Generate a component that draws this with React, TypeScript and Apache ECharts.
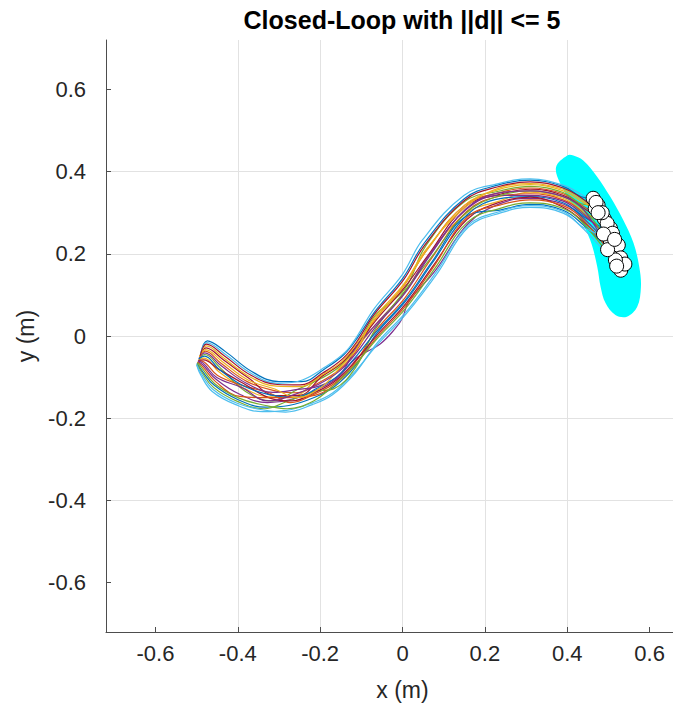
import React, { useEffect, useRef } from "react";
import * as echarts from "echarts";

const xTicks = [-0.6, -0.4, -0.2, 0, 0.2, 0.4, 0.6];
const yTicks = [-0.6, -0.4, -0.2, 0, 0.2, 0.4, 0.6];

const lineColors = ["#0072BD", "#D95319", "#EDB120", "#7E2F8E", "#77AC30", "#4DBEEE", "#A2142F"];

// Cyan region (boundary points, data coordinates)
const reachRegion = [
  [0.400, 0.439], [0.373, 0.411], [0.383, 0.371], [0.424, 0.299], [0.456, 0.233],
  [0.473, 0.168], [0.481, 0.120], [0.493, 0.080], [0.517, 0.051], [0.545, 0.047],
  [0.570, 0.071], [0.579, 0.120], [0.575, 0.168], [0.561, 0.226], [0.536, 0.282],
  [0.505, 0.338], [0.473, 0.387], [0.439, 0.427], [0.415, 0.439],
];

const traj01 = [[-0.490,-0.045],[-0.474,-0.012],[-0.430,-0.038],[-0.365,-0.087],[-0.300,-0.111],[-0.245,-0.111],[-0.189,-0.080],[-0.142,-0.045],[-0.110,-0.005],[-0.069,0.057],[0.001,0.141],[0.052,0.225],[0.150,0.334],[0.231,0.367],[0.310,0.379],[0.390,0.364],[0.440,0.337],[0.463,0.335]];
const traj02 = [[-0.493,-0.053],[-0.479,-0.037],[-0.440,-0.067],[-0.377,-0.111],[-0.312,-0.133],[-0.259,-0.138],[-0.200,-0.112],[-0.152,-0.081],[-0.112,-0.036],[-0.067,0.040],[0.003,0.122],[0.059,0.209],[0.152,0.319],[0.234,0.348],[0.310,0.360],[0.390,0.346],[0.440,0.315],[0.490,0.285]];
const traj03 = [[-0.495,-0.058],[-0.482,-0.054],[-0.446,-0.087],[-0.385,-0.127],[-0.320,-0.148],[-0.264,-0.146],[-0.203,-0.101],[-0.155,-0.072],[-0.113,-0.030],[-0.066,0.027],[0.005,0.107],[0.065,0.197],[0.154,0.298],[0.235,0.328],[0.310,0.350],[0.390,0.335],[0.440,0.303],[0.505,0.262]];
const traj04 = [[-0.497,-0.063],[-0.485,-0.070],[-0.452,-0.106],[-0.393,-0.143],[-0.328,-0.162],[-0.268,-0.154],[-0.206,-0.130],[-0.158,-0.102],[-0.113,-0.054],[-0.055,-0.020],[-0.017,0.019],[0.000,0.044],[0.015,0.083],[0.081,0.161],[0.159,0.273],[0.237,0.322],[0.310,0.335],[0.390,0.321],[0.440,0.286],[0.520,0.200]];
const traj05 = [[-0.494,-0.055],[-0.480,-0.045],[-0.443,-0.077],[-0.381,-0.135],[-0.316,-0.158],[-0.255,-0.130],[-0.197,-0.103],[-0.149,-0.071],[-0.112,-0.027],[-0.068,0.048],[0.006,0.115],[0.055,0.217],[0.151,0.327],[0.233,0.352],[0.310,0.364],[0.390,0.349],[0.440,0.320],[0.475,0.318]];
const traj06 = [[-0.500,-0.070],[-0.490,-0.095],[-0.462,-0.135],[-0.405,-0.167],[-0.340,-0.184],[-0.282,-0.181],[-0.217,-0.162],[-0.169,-0.138],[-0.115,-0.086],[-0.060,-0.020],[0.010,0.055],[0.085,0.153],[0.160,0.265],[0.240,0.300],[0.310,0.313],[0.390,0.299],[0.440,0.260],[0.530,0.160]];
const traj07 = [[-0.492,-0.050],[-0.477,-0.029],[-0.436,-0.057],[-0.373,-0.103],[-0.308,-0.145],[-0.253,-0.145],[-0.195,-0.098],[-0.148,-0.066],[-0.111,-0.023],[-0.067,0.035],[0.004,0.117],[0.061,0.195],[0.153,0.315],[0.234,0.344],[0.310,0.357],[0.390,0.342],[0.440,0.311],[0.497,0.274]];
const traj08 = [[-0.499,-0.066],[-0.488,-0.083],[-0.457,-0.120],[-0.399,-0.155],[-0.334,-0.173],[-0.276,-0.169],[-0.213,-0.149],[-0.164,-0.122],[-0.114,-0.072],[-0.063,0.006],[0.007,0.084],[0.074,0.180],[0.157,0.295],[0.237,0.334],[0.310,0.339],[0.390,0.324],[0.440,0.290],[0.510,0.250]];
const traj09 = [[-0.496,-0.060],[-0.484,-0.062],[-0.449,-0.096],[-0.389,-0.120],[-0.324,-0.138],[-0.272,-0.162],[-0.209,-0.139],[-0.161,-0.112],[-0.114,-0.063],[-0.064,0.014],[0.006,0.093],[0.070,0.188],[0.156,0.303],[0.236,0.340],[0.310,0.346],[0.390,0.331],[0.440,0.298],[0.505,0.229]];
const traj10 = [[-0.492,-0.049],[-0.476,-0.024],[-0.435,-0.053],[-0.371,-0.099],[-0.306,-0.122],[-0.251,-0.123],[-0.193,-0.093],[-0.146,-0.061],[-0.111,-0.018],[-0.067,0.040],[0.003,0.122],[0.059,0.209],[0.152,0.319],[0.233,0.356],[0.310,0.368],[0.390,0.353],[0.440,0.324],[0.468,0.310]];
const traj11 = [[-0.494,-0.054],[-0.480,-0.041],[-0.441,-0.072],[-0.379,-0.115],[-0.314,-0.137],[-0.255,-0.130],[-0.197,-0.120],[-0.149,-0.090],[-0.112,-0.027],[-0.066,0.027],[0.005,0.107],[0.065,0.197],[0.154,0.307],[0.236,0.342],[0.310,0.342],[0.390,0.328],[0.440,0.294],[0.524,0.221]];
const traj12 = [[-0.499,-0.068],[-0.488,-0.087],[-0.459,-0.125],[-0.401,-0.159],[-0.336,-0.177],[-0.278,-0.158],[-0.214,-0.135],[-0.166,-0.128],[-0.114,-0.077],[-0.065,0.018],[0.006,0.110],[0.068,0.189],[0.155,0.300],[0.235,0.341],[0.310,0.353],[0.390,0.339],[0.440,0.307],[0.488,0.248]];
const traj13 = [[-0.491,-0.046],[-0.475,-0.016],[-0.432,-0.043],[-0.367,-0.091],[-0.302,-0.115],[-0.243,-0.107],[-0.187,-0.075],[-0.140,-0.040],[-0.110,0.000],[-0.070,0.065],[0.000,0.150],[0.048,0.233],[0.149,0.342],[0.230,0.370],[0.310,0.382],[0.390,0.367],[0.440,0.341],[0.470,0.325]];
const traj14 = [[-0.496,-0.059],[-0.483,-0.058],[-0.448,-0.080],[-0.387,-0.115],[-0.322,-0.151],[-0.270,-0.158],[-0.208,-0.135],[-0.160,-0.107],[-0.113,-0.059],[-0.063,0.001],[0.008,0.079],[0.076,0.173],[0.157,0.284],[0.238,0.326],[0.310,0.338],[0.390,0.313],[0.440,0.277],[0.530,0.190]];
const traj15 = [[-0.495,-0.056],[-0.481,-0.049],[-0.444,-0.082],[-0.383,-0.123],[-0.318,-0.144],[-0.266,-0.150],[-0.205,-0.126],[-0.157,-0.097],[-0.113,-0.050],[-0.064,0.010],[0.007,0.088],[0.072,0.181],[0.156,0.292],[0.239,0.307],[0.310,0.320],[0.390,0.306],[0.440,0.269],[0.540,0.175]];
const traj16 = [[-0.498,-0.064],[-0.486,-0.074],[-0.454,-0.111],[-0.395,-0.147],[-0.330,-0.150],[-0.274,-0.150],[-0.211,-0.144],[-0.163,-0.117],[-0.114,-0.068],[-0.062,-0.003],[0.008,0.074],[0.078,0.172],[0.158,0.290],[0.238,0.319],[0.310,0.331],[0.390,0.317],[0.440,0.281],[0.517,0.185]];
const traj17 = [[-0.493,-0.051],[-0.478,-0.033],[-0.438,-0.062],[-0.375,-0.107],[-0.310,-0.129],[-0.257,-0.150],[-0.198,-0.125],[-0.151,-0.076],[-0.112,-0.032],[-0.068,0.044],[0.003,0.126],[0.057,0.210],[0.152,0.313],[0.232,0.359],[0.310,0.371],[0.390,0.357],[0.440,0.328],[0.485,0.300]];
const traj18 = [[-0.497,-0.061],[-0.484,-0.066],[-0.451,-0.101],[-0.391,-0.125],[-0.326,-0.158],[-0.261,-0.142],[-0.201,-0.116],[-0.154,-0.086],[-0.112,-0.041],[-0.065,0.023],[0.005,0.103],[0.067,0.196],[0.155,0.310],[0.235,0.348],[0.310,0.353],[0.390,0.339],[0.440,0.307],[0.498,0.210]];
const traj19 = [[-0.498,-0.065],[-0.487,-0.078],[-0.456,-0.116],[-0.397,-0.151],[-0.332,-0.169],[-0.280,-0.177],[-0.216,-0.158],[-0.167,-0.120],[-0.115,-0.070],[-0.062,-0.007],[0.009,0.069],[0.079,0.165],[0.158,0.277],[0.239,0.311],[0.310,0.324],[0.390,0.310],[0.440,0.273],[0.520,0.170]];
const traj20 = [[-0.500,-0.069],[-0.489,-0.091],[-0.460,-0.130],[-0.403,-0.163],[-0.338,-0.180],[-0.284,-0.185],[-0.219,-0.167],[-0.170,-0.143],[-0.115,-0.090],[-0.061,-0.016],[0.010,0.060],[0.083,0.157],[0.159,0.269],[0.240,0.304],[0.310,0.317],[0.390,0.303],[0.440,0.264],[0.515,0.235]];
const traj21 = [[-0.491,-0.048],[-0.476,-0.020],[-0.433,-0.048],[-0.369,-0.095],[-0.304,-0.118],[-0.249,-0.119],[-0.192,-0.089],[-0.145,-0.055],[-0.111,-0.014],[-0.069,0.052],[0.002,0.136],[0.054,0.221],[0.151,0.330],[0.232,0.363],[0.310,0.375],[0.390,0.360],[0.440,0.332],[0.475,0.300]];

const trajectories = [
  traj01, traj02, traj03, traj04, traj05, traj06, traj07, traj08, traj09, traj10, traj11,
  traj12, traj13, traj14, traj15, traj16, traj17, traj18, traj19, traj20, traj21,
];

const FONT = '"Liberation Sans", Arial, Helvetica, sans-serif';
const TEXT_COLOR = "#262626";

export default function App() {
  const ref = useRef<HTMLDivElement>(null);

  useEffect(() => {
    const chart = echarts.init(ref.current!, null, { renderer: "svg" });

    const endPoints = trajectories.map((t) => t[t.length - 1]);

    const axisBase = (name: string, ticks: number[], nameGap: number, labelMargin: number) => ({
      type: "value",
      min: -0.72,
      max: 0.72,
      splitNumber: 7,
      name,
      nameLocation: "middle",
      nameGap,
      nameTextStyle: { fontSize: 23, color: TEXT_COLOR, fontFamily: FONT },
      axisLine: { show: true, onZero: false, lineStyle: { color: "#4d4d4d", width: 1 } },
      axisTick: {
        show: true,
        inside: true,
        length: 5,
        customValues: ticks,
        lineStyle: { color: "#4d4d4d", width: 1 },
      },
      axisLabel: {
        customValues: ticks,
        fontSize: 22,
        color: TEXT_COLOR,
        fontFamily: FONT,
        margin: labelMargin,
        formatter: (v: number) => String(Math.round(v * 10) / 10),
      },
      splitLine: {
        show: true,
        showMinLine: false,
        showMaxLine: false,
        lineStyle: { color: "#e2e2e2", width: 1 },
      },
    });

    const series: any[] = [
      {
        type: "custom",
        silent: true,
        z: 1,
        data: [[0.48, 0.24]],
        renderItem: (_params: any, api: any) => ({
          type: "polygon",
          shape: { points: reachRegion.map((p) => api.coord(p)), smooth: 0.35 },
          style: { fill: "#00FFFF", stroke: "none" },
        }),
      },
    ];

    trajectories.forEach((t, i) => {
      series.push({
        type: "line",
        data: t,
        symbol: "none",
        showSymbol: false,
        smooth: 0.4,
        silent: true,
        z: 2,
        lineStyle: { color: lineColors[i % lineColors.length], width: 1.2 },
      });
    });

    series.push({
      type: "scatter",
      data: endPoints,
      symbol: "circle",
      symbolSize: 14,
      z: 3,
      silent: true,
      itemStyle: { color: "#ffffff", borderColor: "#000000", borderWidth: 1, opacity: 1 },
    });

    chart.setOption({
      animation: false,
      backgroundColor: "#ffffff",
      grid: {
        left: 106,
        top: 40,
        width: 593,
        height: 592,
        containLabel: false,
        outerBoundsMode: "none",
      },
      xAxis: axisBase("x (m)", xTicks, 46, 10),
      yAxis: axisBase("y (m)", yTicks, 37, 20),
      graphic: [
        {
          type: "text",
          x: 402,
          y: 20,
          style: {
            text: "Closed-Loop with ||d|| <= 5",
            fill: "#000000",
            fontSize: 25,
            fontWeight: "bold",
            fontFamily: FONT,
            align: "center",
            verticalAlign: "middle",
          },
        },
      ],
      series,
    });

    return () => chart.dispose();
  }, []);

  return (
    <div
      ref={ref}
      style={{ position: "fixed", left: 0, top: 0, width: 673, height: 704, background: "#fff" }}
    />
  );
}
